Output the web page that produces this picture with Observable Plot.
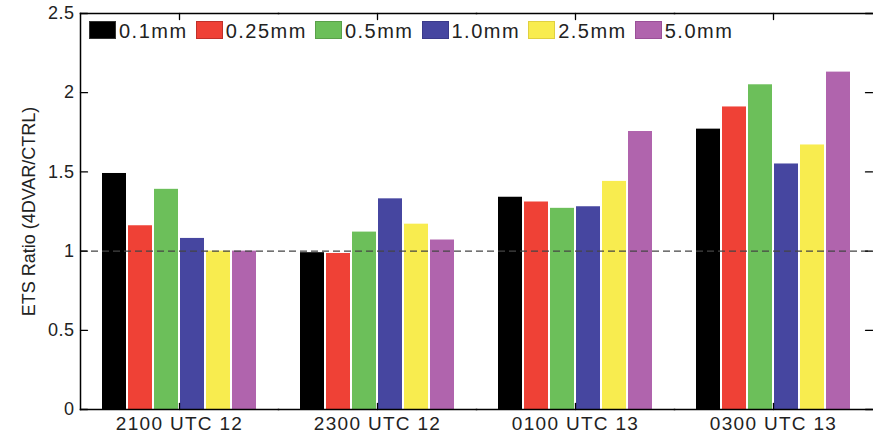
<!DOCTYPE html>
<html><head><meta charset="utf-8">
<script src="https://cdn.jsdelivr.net/npm/d3@7"></script>
<script src="https://cdn.jsdelivr.net/npm/@observablehq/plot@0.6"></script>
<style>
body{margin:0;background:#fff;}
#wrap{position:relative;width:873px;height:434px;font-family:"Liberation Sans",Arial,sans-serif;overflow:hidden;}
#legend{position:absolute;left:89px;top:21px;display:flex;align-items:center;height:18px;}
.item{display:flex;align-items:center;margin-right:8px;}
.sw{width:27px;height:18px;box-sizing:border-box;margin-right:3px;}
.lab{font-size:20px;letter-spacing:1.5px;color:#222;line-height:18px;padding-top:1px;}
g[aria-label="fx-axis tick label"] text{letter-spacing:1.3px;}
g[aria-label="y-axis tick label"] text{letter-spacing:0.5px;}
</style></head><body><div id="wrap"><div id="chart"></div><div id="legend"></div></div>
<script>
const groups = ["2100 UTC 12","2300 UTC 12","0100 UTC 13","0300 UTC 13"];
const series = ["0.1mm","0.25mm","0.5mm","1.0mm","2.5mm","5.0mm"];
const colors = ["#000000","#ef4136","#6cbf5a","#4646a0","#f8ec4f","#b064ad"];
const v01  = [1.49, 0.99, 1.34, 1.77];
const v025 = [1.16, 0.985, 1.31, 1.91];
const v05  = [1.39, 1.12, 1.27, 2.05];
const v10  = [1.08, 1.33, 1.28, 1.55];
const v25  = [1.00, 1.17, 1.44, 1.67];
const v50  = [1.00, 1.07, 1.755, 2.13];
const yTicks = [0, 0.5, 1, 1.5, 2, 2.5];
const refLine = [1];
const yLabel = "ETS Ratio (4DVAR/CTRL)";

const seriesValues = [v01, v025, v05, v10, v25, v50];
const data = [];
groups.forEach((g, gi) => series.forEach((s, si) => data.push({group: g, series: s, value: seriesValues[si][gi]})));

const tickShape = {draw(context, l) { context.moveTo(0, 0); context.lineTo(0, -l); }};
const tickOpts = {anchor: "start", shape: tickShape, stroke: "#000", strokeWidth: 1.3};

const chart = Plot.plot({
  width: 873,
  height: 434,
  marginLeft: 79,
  marginRight: 0,
  marginTop: 13,
  marginBottom: 25,
  style: {fontFamily: '"Liberation Sans", Arial, sans-serif', color: "#222", background: "#fff"},
  fx: {domain: groups, padding: 0, label: null},
  x: {domain: series, paddingInner: 0.07, paddingOuter: 0.81, axis: null},
  y: {domain: [0, 2.5], label: null},
  color: {domain: series, range: colors},
  marks: [
    Plot.barY(data, {fx: "group", x: "series", y: "value", fill: "series"}),
    Plot.ruleY(refLine, {stroke: "#444", strokeWidth: 1.2, strokeDasharray: "7,4"}),
    Plot.frame({anchor: "left", facetAnchor: "left", stroke: "#000", strokeWidth: 1.5}),
    Plot.frame({anchor: "top", stroke: "#000", strokeWidth: 1.5}),
    Plot.frame({anchor: "bottom", stroke: "#000", strokeWidth: 1.5}),
    Plot.vector(yTicks, {...tickOpts, y: d => d, frameAnchor: "left", rotate: 90, length: 7, facetAnchor: "left"}),
    Plot.vector(yTicks, {...tickOpts, y: d => d, frameAnchor: "right", rotate: -90, length: 7, facetAnchor: "right"}),
    Plot.vector([0], {...tickOpts, frameAnchor: "bottom", rotate: 0, length: 6}),
    Plot.vector([0], {...tickOpts, frameAnchor: "top", rotate: 180, length: 6}),
    Plot.axisY({ticks: yTicks, tickSize: 0, tickPadding: 6, tickFormat: d => String(d), fontSize: 18, label: null}),
    Plot.axisFx({anchor: "bottom", tickSize: 0, tickPadding: 7, fontSize: 19, label: null}),
    Plot.text([yLabel], {text: d => d, frameAnchor: "left", textAnchor: "middle", lineAnchor: "middle", dx: -51, rotate: -90, fontSize: 18, fill: "#222", facetAnchor: "left"})
  ]
});
document.getElementById("chart").appendChild(chart);

const legend = document.getElementById("legend");
const borders = ["#333","#c0302a","#5aa04a","#3a3a8a","#e0d040","#9a5098"];
series.forEach((s, i) => {
  const item = document.createElement("div");
  item.className = "item";
  const sw = document.createElement("div");
  sw.className = "sw";
  sw.style.background = colors[i];
  sw.style.border = "1px solid " + borders[i];
  const lab = document.createElement("span");
  lab.className = "lab";
  lab.textContent = s;
  item.appendChild(sw);
  item.appendChild(lab);
  legend.appendChild(item);
});
</script></body></html>
